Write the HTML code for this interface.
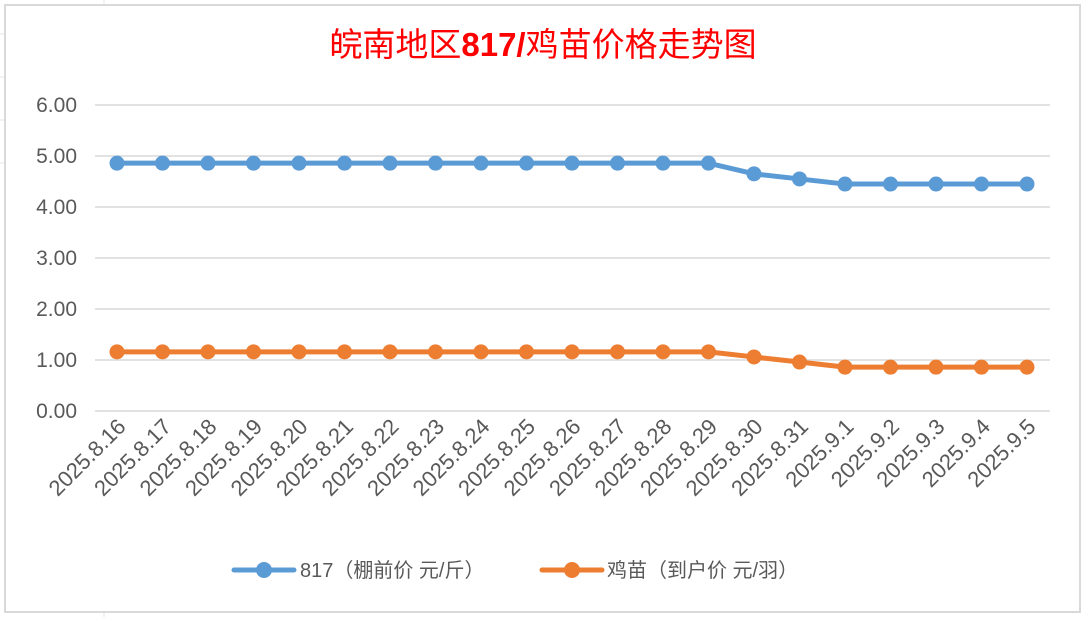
<!DOCTYPE html>
<html><head><meta charset="utf-8"><style>
body{margin:0;width:1086px;height:617px;background:#fff;overflow:hidden;font-family:"Liberation Sans","Noto Sans CJK SC",sans-serif}
</style></head><body>
<svg width="1086" height="617" xmlns="http://www.w3.org/2000/svg">
<g stroke="#e6e6e6" stroke-width="1">
<line x1="0" y1="34" x2="5" y2="34"/><line x1="0" y1="77" x2="5" y2="77"/><line x1="0" y1="120" x2="5" y2="120"/><line x1="0" y1="163" x2="5" y2="163"/>
<line x1="104" y1="0" x2="104" y2="5"/><line x1="104" y1="612" x2="104" y2="617"/>
</g>
<rect x="5" y="5" width="1075" height="607" fill="#fff" stroke="#d9d9d9" stroke-width="2"/>
<text x="543" y="56" text-anchor="middle" font-size="33" fill="#ff0000">皖南地区<tspan font-weight="bold">817/</tspan>鸡苗价格走势图</text>
<g id="grid"></g><g id="yl"></g><g id="xl"></g><g id="series"></g>
<g font-size="20" fill="#595959">
<line x1="234" y1="570" x2="294" y2="570" stroke="#5b9bd5" stroke-width="5" stroke-linecap="round"/><circle cx="264" cy="570" r="8" fill="#5b9bd5"/>
<text x="300" y="577">817（棚前价 元/斤）</text>
<line x1="542" y1="570" x2="602" y2="570" stroke="#ed7d31" stroke-width="5" stroke-linecap="round"/><circle cx="572" cy="570" r="8" fill="#ed7d31"/>
<text x="607" y="577">鸡苗（到户价 元/羽）</text>
</g>
</svg>
<script>
const categories=["2025.8.16","2025.8.17","2025.8.18","2025.8.19","2025.8.20","2025.8.21","2025.8.22","2025.8.23","2025.8.24","2025.8.25","2025.8.26","2025.8.27","2025.8.28","2025.8.29","2025.8.30","2025.8.31","2025.9.1","2025.9.2","2025.9.3","2025.9.4","2025.9.5"];
const price817=[4.86,4.86,4.86,4.86,4.86,4.86,4.86,4.86,4.86,4.86,4.86,4.86,4.86,4.86,4.65,4.55,4.45,4.45,4.45,4.45,4.45];
const priceChick=[1.16,1.16,1.16,1.16,1.16,1.16,1.16,1.16,1.16,1.16,1.16,1.16,1.16,1.16,1.06,0.96,0.86,0.86,0.86,0.86,0.86];
const yTicks=[0,1,2,3,4,5,6];
const NS="http://www.w3.org/2000/svg";
function x(i){return 117+i*(1027-117)/(categories.length-1);}
function y(v){return 411-v*51;}
function mk(tag,attrs,parent,txt){const e=document.createElementNS(NS,tag);for(const k in attrs)e.setAttribute(k,attrs[k]);if(txt!==undefined)e.textContent=txt;document.getElementById(parent).appendChild(e);return e;}
yTicks.forEach(t=>{
 const l=mk('line',{x1:95,x2:1050,y1:y(t),y2:y(t),stroke:'#d9d9d9','stroke-width':1.5},'grid');
 
 
 const tx=mk('text',{x:77,y:y(t)+7,'text-anchor':'end','font-size':21,fill:'#595959'},'yl',t.toFixed(2));
 
 
});
categories.forEach((c,i)=>{
 const tx=mk('text',{x:0,y:0,'text-anchor':'end','font-size':22,fill:'#595959',transform:`translate(${x(i)+10},${428}) rotate(-45)`},'xl',c);
 
 
});
[[price817,'#5b9bd5','series-817'],[priceChick,'#ed7d31','series-chick']].forEach(([d,col,name])=>{
 const p=mk('polyline',{points:d.map((v,i)=>x(i)+','+y(v)).join(' '),fill:'none',stroke:col,'stroke-width':5,'stroke-linejoin':'round'},'series');
 
 
 d.forEach((v,i)=>{
  const c=mk('circle',{cx:x(i),cy:y(v),r:7.5,fill:col},'series');
  
  
 });
});
</script>
</body></html>
